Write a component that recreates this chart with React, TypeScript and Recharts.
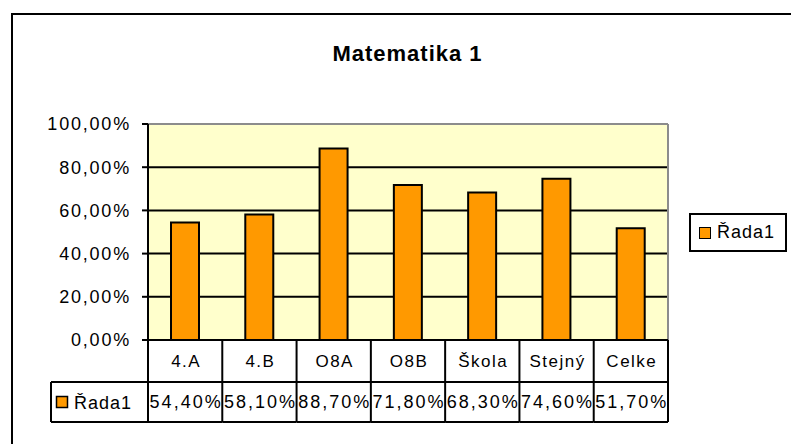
import { BarChart, Bar, XAxis, YAxis, CartesianGrid, Legend } from 'recharts';

const categories = ['4.A', '4.B', 'O8A', 'O8B', 'Škola', 'Stejný', 'Celke'];
const values = [0.544, 0.581, 0.887, 0.718, 0.683, 0.746, 0.517];
const yTicks = [0, 0.2, 0.4, 0.6, 0.8, 1];
const seriesName = 'Řada1';
const title = 'Matematika 1';

const data = categories.map((name, i) => ({ name, value: values[i] }));

const FONT = '"Liberation Sans", Arial, sans-serif';
const ORANGE = '#FF9900';
const PLOT_LEFT = 148;
const PLOT_RIGHT = 668;
const PLOT_TOP = 124;
const BAND = (PLOT_RIGHT - PLOT_LEFT) / categories.length;
const ROW1 = 42; // category row height
const ROW2 = 82; // table bottom

// 0.544 -> "54,40%"
const pct = (v: number) => (v * 100).toFixed(2).replace('.', ',') + '%';

// one column of the data table under the plot
const TableTick = (props: any) => {
  const { x, y, payload } = props;
  const idx = payload.index ?? props.index;
  const left = x - BAND / 2;
  const right = x + BAND / 2;
  const line = { stroke: '#000', strokeWidth: 2 };
  return (
    <g>
      {idx === 0 && (
        <g>
          <line x1={left} y1={y} x2={left} y2={y + ROW2} {...line} />
          <line x1={51} y1={y + ROW1} x2={left} y2={y + ROW1} {...line} />
          <line x1={51} y1={y + ROW2} x2={left} y2={y + ROW2} {...line} />
          <line x1={51} y1={y + ROW1} x2={51} y2={y + ROW2} {...line} />
          <rect x={56.5} y={y + 56.5} width={11} height={11} fill={ORANGE} stroke="#000" strokeWidth={1.5} />
          <text x={74} y={y + 63} dominantBaseline="central" fontFamily={FONT} fontSize={18} letterSpacing={1} fill="#000">
            {seriesName}
          </text>
        </g>
      )}
      <line x1={right} y1={y} x2={right} y2={y + ROW2} {...line} />
      <line x1={left} y1={y + ROW1} x2={right} y2={y + ROW1} {...line} />
      <line x1={left} y1={y + ROW2} x2={right} y2={y + ROW2} {...line} />
      <text x={x + 1} y={y + 21} textAnchor="middle" dominantBaseline="central" fontFamily={FONT} fontSize={17} letterSpacing={1.5} fill="#000">
        {payload.value}
      </text>
      <text x={x + 1} y={y + 62} textAnchor="middle" dominantBaseline="central" fontFamily={FONT} fontSize={18} letterSpacing={2} fill="#000">
        {pct(values[idx])}
      </text>
    </g>
  );
};

// grid lines: black, except the plot's top edge which is grey
const HLine = (p: any) => (
  <line
    key={p.key}
    x1={p.x1}
    y1={p.y1}
    x2={p.x2}
    y2={p.y2}
    stroke={Math.abs(p.y1 - PLOT_TOP) < 1 ? '#8c8c8c' : '#000'}
    strokeWidth={2}
  />
);
const VLine = (p: any) => (
  <line key={p.key} x1={p.x1} y1={p.y1} x2={p.x2} y2={p.y2} stroke="#8c8c8c" strokeWidth={2} />
);

const LegendBox = () => (
  <div
    style={{
      boxSizing: 'border-box',
      width: 98,
      height: 39,
      border: '2px solid #000',
      background: '#fff',
      display: 'flex',
      alignItems: 'center',
      paddingLeft: 8,
      fontFamily: FONT,
      fontSize: 18,
      letterSpacing: 1,
      color: '#000',
    }}
  >
    <span style={{ width: 10, height: 10, background: ORANGE, border: '1.5px solid #000', marginRight: 6 }} />
    {seriesName}
  </div>
);

export default function App() {
  return (
    <div style={{ position: 'fixed', left: 0, top: 0, width: 791, height: 444, overflow: 'hidden', background: '#fff' }}>
      <div
        style={{
          position: 'absolute',
          left: 11,
          top: 13,
          width: 900,
          height: 600,
          border: '2px solid #000',
          boxSizing: 'border-box',
        }}
      />
      <div
        style={{
          position: 'absolute',
          left: 0,
          top: 42,
          width: 815,
          textAlign: 'center',
          fontFamily: FONT,
          fontWeight: 'bold',
          fontSize: 22,
          letterSpacing: 1,
          lineHeight: '24px',
          color: '#000',
        }}
      >
        {title}
      </div>
      <div style={{ position: 'absolute', left: 0, top: 0 }}>
        <BarChart width={791} height={444} data={data} margin={{ top: PLOT_TOP, right: 791 - PLOT_RIGHT, bottom: 22, left: 0 }}>
          <CartesianGrid
            fill="#FFFFCC"
            fillOpacity={1}
            horizontal={HLine}
            vertical={VLine}
            verticalPoints={[PLOT_RIGHT]}
          />
          <XAxis
            dataKey="name"
            height={82}
            interval={0}
            tickLine={false}
            tickSize={0}
            tickMargin={0}
            axisLine={{ stroke: '#000', strokeWidth: 2 }}
            tick={<TableTick />}
          />
          <YAxis
            width={PLOT_LEFT}
            domain={[0, 1]}
            ticks={yTicks}
            interval={0}
            tickFormatter={pct}
            axisLine={{ stroke: '#000', strokeWidth: 2 }}
            tickLine={{ stroke: '#000', strokeWidth: 2 }}
            tickSize={6}
            tickMargin={11}
            tick={{ fill: '#000', fontSize: 18, fontFamily: FONT, letterSpacing: 1.8 }}
          />
          <Legend
            layout="horizontal"
            verticalAlign="middle"
            align="center"
            wrapperStyle={{ left: 689, top: 213, width: 98, height: 39 }}
            content={<LegendBox />}
          />
          <Bar dataKey="value" name={seriesName} fill={ORANGE} stroke="#000" strokeWidth={2} barSize={28} isAnimationActive={false} />
        </BarChart>
      </div>
    </div>
  );
}
